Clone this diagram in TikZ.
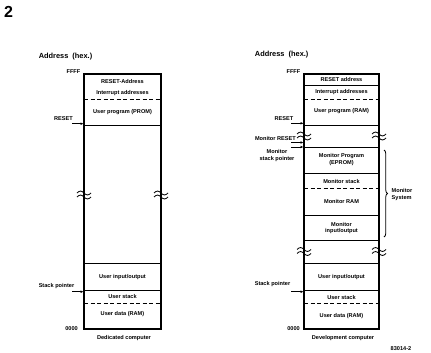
\documentclass[tikz,border=0pt]{standalone}
\usepackage{fontspec}
\setmainfont{Liberation Sans}
\usetikzlibrary{arrows.meta,decorations.pathreplacing}
\tikzset{
  brk/.pic={
    \draw[line width=0.8pt] (-7,-2) sin (-3.5,-4) cos (0,-2) sin (3.5,0) cos (7,-2);
    \draw[line width=0.8pt] (-7,2) sin (-3.5,0) cos (0,2) sin (3.5,4) cos (7,2);
  }
}
\begin{document}
\begin{tikzpicture}[x=1pt,y=-1pt,
  box/.style={line width=1.1pt},
  sep/.style={line width=0.8pt},
  dsep/.style={line width=0.8pt,dash pattern=on 4pt off 2.5pt},
  txt/.style={font=\fontsize{5.6}{6.6}\selectfont\bfseries,inner sep=0pt,align=center},
  lbl/.style={txt,anchor=east},
  ptr/.style={-{Latex[length=3pt,width=2.8pt]},line width=0.9pt},
  head/.style={font=\fontsize{7.4}{8}\selectfont\bfseries,inner sep=0pt},
]
\useasboundingbox (0,0) rectangle (431,353);

\node[font=\fontsize{16}{17}\selectfont\bfseries,inner sep=0pt] (fig) at (8.5,12) {2};

% ---------------- left: dedicated computer
\node[head] (addrL) at (65.5,56.7) {Address\ \ (hex.)};
\draw[box] (84,74) rectangle (161,329);
\node[txt] (l1) at (122.5,81.5) {RESET-Address};
\node[txt] (l2) at (122.5,92.7) {Interrupt addresses};
\draw[dsep] (84,99.5) -- (161,99.5);
\node[txt] (l3) at (122.5,112) {User program (PROM)};
\draw[sep] (84,125) -- (161,125);
\pic at (84,195) {brk};
\pic at (161,195) {brk};
\draw[sep] (84,263.3) -- (161,263.3);
\node[txt] (l4) at (122.5,277.5) {User input/output};
\draw[sep] (84,290) -- (161,290);
\node[txt] (l5) at (122.5,296.7) {User stack};
\draw[dsep] (84,303.3) -- (161,303.3);
\node[txt] (l6) at (122.5,314.5) {User data (RAM)};

\node[lbl] (ffffL) at (80.5,72) {FFFF};
\node[lbl] (zeroL) at (78,329) {0000};
\node[txt] (resetL) at (63.5,119) {RESET};
\coordinate (rLs) at (72,123.7); \coordinate (rLe) at (83.5,123.7);
\draw[ptr] (rLs) -- (rLe);
\node[txt] (spL) at (56.5,285.7) {Stack pointer};
\coordinate (sLs) at (72,291.7); \coordinate (sLe) at (83.5,291.7);
\draw[ptr] (sLs) -- (sLe);
\node[txt] (capL) at (124,338) {Dedicated computer};

% ---------------- right: development computer
\node[head] (addrR) at (281.7,55) {Address\ \ (hex.)};
\draw[box] (304,74) rectangle (379,329);
\node[txt] (r1) at (341.5,79.5) {RESET address};
\draw[sep] (304,85) -- (379,85);
\node[txt] (r2) at (341.5,92.3) {Interrupt addresses};
\draw[dsep] (304,99.3) -- (379,99.3);
\node[txt] (r3) at (341.5,110.7) {User program (RAM)};
\draw[sep] (304,125) -- (379,125);
\pic at (304,136) {brk};
\pic at (379,136) {brk};
\draw[sep] (304,147) -- (379,147);
\node[txt] (r4) at (341.5,159.5) {Monitor Program\\(EPROM)};
\draw[sep] (304,173.3) -- (379,173.3);
\node[txt] (r5) at (341.5,181) {Monitor stack};
\draw[dsep] (304,188.3) -- (379,188.3);
\node[txt] (r6) at (341.5,201.7) {Monitor RAM};
\draw[sep] (304,215) -- (379,215);
\node[txt] (r7) at (341.5,228) {Monitor\\input/output};
\draw[sep] (304,240.7) -- (379,240.7);
\pic at (304,251.5) {brk};
\pic at (379,251.5) {brk};
\draw[sep] (304,263.3) -- (379,263.3);
\node[txt] (r8) at (341.5,276.7) {User input/output};
\draw[sep] (304,290) -- (379,290);
\node[txt] (r9) at (341.5,297.7) {User stack};
\draw[dsep] (304,303.3) -- (379,303.3);
\node[txt] (r10) at (341.5,315.7) {User data (RAM)};

\node[lbl] (ffffR) at (300.5,72) {FFFF};
\node[lbl] (zeroR) at (300,329) {0000};
\node[txt] (resetR) at (284,118.3) {RESET};
\coordinate (rRs) at (291,123.3); \coordinate (rRe) at (303.5,123.3);
\draw[ptr] (rRs) -- (rRe);
\node[lbl] (monreset) at (296,138) {Monitor RESET};
\coordinate (mRs) at (291,142.5); \coordinate (mRe) at (303.5,142.5);
\draw[ptr] (mRs) -- (mRe);
\coordinate (mSs) at (291,147); \coordinate (mSe) at (303.5,147);
\draw[ptr] (mSs) -- (mSe);
\node[txt] (monsp) at (277,155.3) {Monitor\\stack pointer};
\node[txt] (spR) at (272.5,284) {Stack pointer};
\coordinate (sRs) at (291,291.7); \coordinate (sRe) at (303.5,291.7);
\draw[ptr] (sRs) -- (sRe);
\draw[line width=0.8pt,decorate,decoration={brace,amplitude=3.5pt}] (384,150) -- (384,237);
\node[txt,anchor=west,align=left] (monsys) at (391.5,194.5) {Monitor\\System};
\node[txt] (capR) at (343,338.3) {Development computer};
\node[txt] (code) at (401,349) {83014-2};
\end{tikzpicture}
\end{document}
